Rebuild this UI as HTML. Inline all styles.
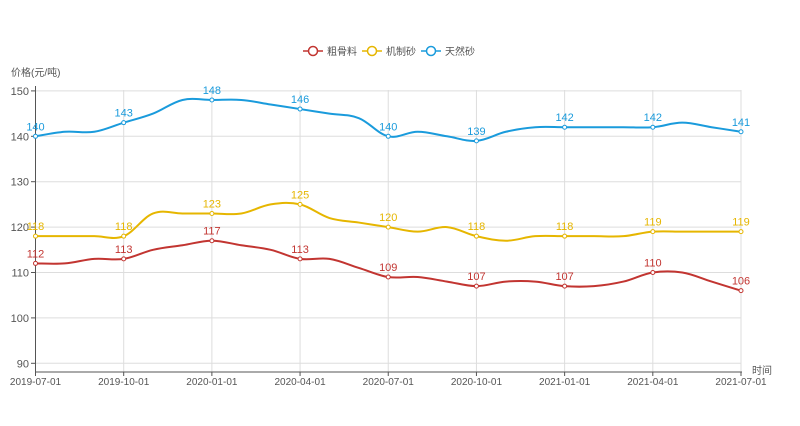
<!DOCTYPE html>
<html><head><meta charset="utf-8"><style>
body{margin:0;background:#fff;width:800px;height:421px;overflow:hidden;font-family:"Liberation Sans","Noto Sans CJK SC",sans-serif}
</style></head><body>
<svg id="s" width="800" height="421" xmlns="http://www.w3.org/2000/svg" font-family="Liberation Sans, Noto Sans CJK SC, sans-serif"></svg>
<script>
var s=document.getElementById('s');
var X0=35.5,X1=741,M=(X1-X0)/24;
function y(v){return 363.3-(v-90)*4.54;}
function x(i){return X0+i*M;}
var h='';
// grid
for(var v=90;v<=150;v+=10){h+='<line x1="'+X0+'" x2="'+X1+'" y1="'+y(v)+'" y2="'+y(v)+'" stroke="#ddd" stroke-width="1"/>';
h+='<line x1="31" x2="'+X0+'" y1="'+y(v)+'" y2="'+y(v)+'" stroke="#555"/>';
h+='<text x="29" y="'+(y(v)+4)+'" font-size="11" fill="#555" text-anchor="end">'+v+'</text>';}
var dates=['2019-07-01','2019-10-01','2020-01-01','2020-04-01','2020-07-01','2020-10-01','2021-01-01','2021-04-01','2021-07-01'];
for(var q=0;q<9;q++){var xx=x(q*3);
if(q>0)h+='<line x1="'+xx+'" x2="'+xx+'" y1="90" y2="372" stroke="#ddd"/>';
h+='<line x1="'+xx+'" x2="'+xx+'" y1="372" y2="376" stroke="#555"/>';
h+='<text x="'+xx+'" y="385" font-size="10" fill="#555" text-anchor="middle">'+dates[q]+'</text>';}
h+='<line x1="'+X0+'" x2="'+X0+'" y1="86" y2="372" stroke="#555"/>';
h+='<line x1="'+X0+'" x2="'+(X1+1)+'" y1="372" y2="372" stroke="#555"/>';
h+='<text x="11" y="76" font-size="10" fill="#555">价格(元/吨)</text>';
h+='<text x="752" y="374" font-size="10" fill="#555">时间</text>';
var S=[
['#c23531','粗骨料',[112,112,113,113,115,116,117,116,115,113,113,111,109,109,108,107,108,108,107,107,108,110,110,108,106]],
['#e6b600','机制砂',[118,118,118,118,123,123,123,123,125,125,122,121,120,119,120,118,117,118,118,118,118,119,119,119,119]],
['#1a9bdc','天然砂',[140,141,141,143,145,148,148,148,147,146,145,144,140,141,140,139,141,142,142,142,142,142,143,142,141]]];
S.forEach(function(sr){var c=sr[0],d=sr[2],p=[];
for(var i=0;i<d.length;i++)p.push([x(i),y(d[i])]);
var path='M'+p[0][0]+','+p[0][1];
for(var i=0;i<p.length-1;i++){var p0=p[i>0?i-1:0],p1=p[i],p2=p[i+1],p3=p[i+2<p.length?i+2:i+1];var t=0.18;
path+=' C'+(p1[0]+(p2[0]-p0[0])*t)+','+(p1[1]+(p2[1]-p0[1])*t)+' '+(p2[0]-(p3[0]-p1[0])*t)+','+(p2[1]-(p3[1]-p1[1])*t)+' '+p2[0]+','+p2[1];}
h+='<path d="'+path+'" fill="none" stroke="'+c+'" stroke-width="2"/>';
for(var q=0;q<9;q++){var i=q*3;h+='<circle cx="'+p[i][0]+'" cy="'+p[i][1]+'" r="2" fill="#fff" stroke="'+c+'"/>';
h+='<text x="'+p[i][0]+'" y="'+(p[i][1]-6)+'" font-size="11" fill="'+c+'" text-anchor="middle">'+d[i]+'</text>';}
});
// legend
var lx=[303,362,421];
S.forEach(function(sr,k){var a=lx[k];
h+='<line x1="'+a+'" x2="'+(a+20)+'" y1="51" y2="51" stroke="'+sr[0]+'" stroke-width="1.5"/><circle cx="'+(a+10)+'" cy="51" r="4.5" fill="#fff" stroke="'+sr[0]+'" stroke-width="1.5"/>';
h+='<text x="'+(a+24)+'" y="55" font-size="10" fill="#555">'+sr[1]+'</text>';});
s.innerHTML=h;
</script>
</body></html>
